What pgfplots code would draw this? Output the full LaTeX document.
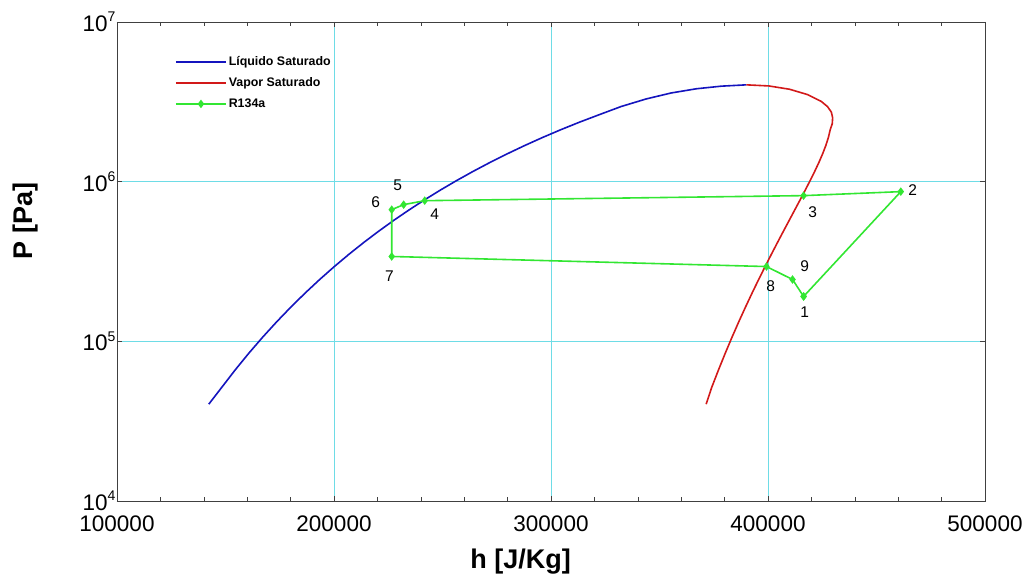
\documentclass[border=0pt]{standalone}
\usepackage{fontspec}
\setmainfont{Liberation Sans}
\usepackage{pgfplots}
\pgfplotsset{compat=1.18}
\definecolor{gridc}{RGB}{110,220,230}
\definecolor{liqblue}{RGB}{20,20,190}
\definecolor{vapred}{RGB}{210,25,25}
\definecolor{cycgreen}{RGB}{50,230,50}
\newcommand{\pe}[1]{10\raisebox{0.42em}{\fontsize{14}{14}\selectfont #1}}
\begin{document}
\begin{tikzpicture}
\useasboundingbox (-117pt,-77pt) rectangle (908pt,501pt);
\begin{axis}[
 scale only axis, width=868pt, height=479pt,
 at={(0pt,0pt)}, anchor=south west,
 xmin=100000, xmax=500000, ymode=log, ymin=1e4, ymax=1e7,
 xtick={100000,200000,300000,400000,500000},
 xticklabels={100000,200000,300000,400000,500000},
 scaled x ticks=false,
 minor x tick num=4,
 ytick={1e4,1e5,1e6,1e7},
 yticklabels={\pe{4},\pe{5},\pe{6},\pe{7}},
 tick align=inside, xtick pos=both, ytick pos=both,
 major tick length=5pt, minor tick length=4pt,
 grid=major, major grid style={gridc, line width=0.8pt},
 minor y tick style={draw=none},
 axis line style={black!75, line width=0.7pt},
 tick style={black!75, line width=0.6pt},
 ticklabel style={font=\fontsize{22.5}{24}\selectfont},
 xticklabel style={yshift=-11.5pt},
 yticklabel style={xshift=2pt},
 xlabel={h [J/Kg]}, ylabel={P [Pa]},
 label style={font=\fontsize{27}{30}\selectfont\bfseries},
 xlabel style={at={(axis description cs:0.465,-0.1399)}, anchor=base},
 ylabel style={at={(axis description cs:-0.0979,0.585)}, anchor=base},
 legend style={at={(axis description cs:0.0668,0.932)}, anchor=north west,
   draw=none, fill=none, inner sep=0pt,
   font=\fontsize{12.4}{14}\selectfont\bfseries, row sep=6.5pt,
   nodes={inner xsep=2pt, inner ysep=2pt}},
 legend cell align=left,
 legend image code/.code={\draw[#1, mark repeat=2, mark phase=2] plot coordinates {(0pt,0pt) (25pt,0pt) (50pt,0pt)};},
]
\addplot[liqblue, line width=1.6pt] coordinates {
(142300,40400) (148140,51210) (154440,66140) (160790,84380) (167190,106400)
(173640,132730) (180140,163940) (186700,200600) (193320,243340) (200000,292800)
(206750,349660) (213580,414610) (220490,488370) (227490,571710) (234590,665380)
(241790,770200) (249100,886980) (256540,1016600) (264110,1159900) (271830,1317900)
(279720,1491500) (287790,1681800) (296060,1889800) (304560,2116800) (313340,2364100)
(322440,2633200) (332300,2955000) (343900,3298000) (355400,3594000) (367000,3818000)
(378500,3964000) (390000,4040000)
};
\addlegendentry{Líquido Saturado}
\addplot[vapred, line width=1.6pt] coordinates {
(390000,4040000) (400370,3977000) (409930,3791000) (418150,3513000) (424480,3185000)
(427390,2955000) (429190,2727000) (429790,2512000) (429600,2304000)
(428680,2116800) (427820,1889800) (426630,1681800) (425150,1491500)
(423440,1317900) (421520,1159900) (419430,1016600) (417190,886980) (414820,770200)
(412330,665380) (409750,571710) (407070,488370) (404320,414610) (401490,349660)
(398600,292800) (395660,243340) (392660,200600) (389630,163940) (386550,132730)
(383450,106400) (380320,84380) (377170,66140) (374000,51210) (371500,40400)
};
\addlegendentry{Vapor Saturado}
\addplot[cycgreen, line width=1.6pt, mark=diamond*, mark size=3pt, mark options={fill=cycgreen}] coordinates {
(416400,191000) (461200,866000) (416400,817500) (241800,760000) (232100,718000)
(226600,668000) (226600,340000) (399300,294000) (411300,244000) (416400,191000)
};
\addlegendentry{R134a}
\begin{scope}[every node/.style={font=\fontsize{15.5}{16}\selectfont, inner sep=0pt}]
\node at (axis cs:416900,151800) {1};
\node at (axis cs:466700,891000) {2};
\node at (axis cs:420600,640000) {3};
\node at (axis cs:246400,622000) {4};
\node at (axis cs:229300,944000) {5};
\node at (axis cs:219200,739000) {6};
\node at (axis cs:225600,254800) {7};
\node at (axis cs:401200,220800) {8};
\node at (axis cs:416900,294400) {9};
\end{scope}
\end{axis}
\end{tikzpicture}
\end{document}
